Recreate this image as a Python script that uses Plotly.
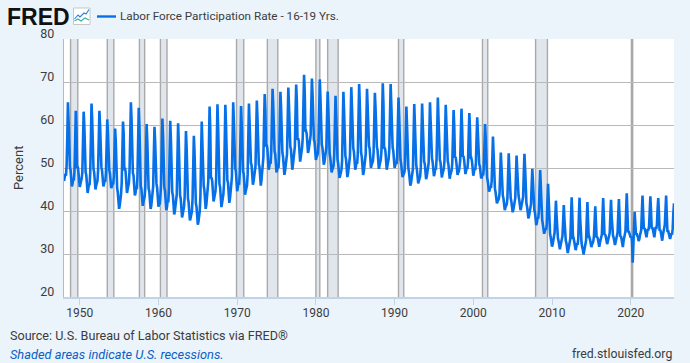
import plotly.graph_objects as go

W, H = 690, 363
L, R, T, B = 64, 16, 39, 66

first_year = 1948
monthly_rate = [
    [47.0,47.8,48.6,48.2,50.5,57.0,65.3,61.0,50.6,50.2,49.5,48.0],
    [45.7,46.4,47.5,47.1,49.3,55.8,63.3,59.4,50.0,50.4,49.0,47.3],
    [45.6,46.3,46.9,47.6,49.0,56.0,63.1,59.8,49.2,49.0,48.3,46.4],
    [44.2,45.1,46.3,46.0,48.8,56.5,65.0,61.2,50.4,49.8,49.0,47.2],
    [45.0,45.9,46.4,47.0,49.5,56.2,63.3,59.9,50.8,50.2,49.4,47.6],
    [45.7,46.3,47.1,46.8,49.1,55.4,61.3,58.2,50.0,49.5,48.8,46.9],
    [45.3,45.8,46.5,46.2,48.0,54.0,59.2,56.0,46.2,45.4,44.3,42.5],
    [40.5,41.3,42.4,43.9,46.5,53.8,60.8,58.0,49.5,50.1,49.0,46.8],
    [44.2,45.0,46.2,46.6,49.8,57.5,65.3,61.3,49.4,48.8,48.2,46.0],
    [43.6,44.2,45.4,45.1,47.9,56.0,64.0,59.6,46.6,45.8,45.1,43.2],
    [41.2,42.1,42.6,43.4,45.5,53.0,60.2,56.4,45.9,45.2,44.6,42.6],
    [40.5,41.2,42.3,43.5,45.7,53.2,59.6,56.0,46.6,46.3,45.4,43.3],
    [41.0,41.8,41.5,43.6,46.2,54.0,61.5,57.6,45.8,45.5,44.6,42.5],
    [40.2,41.0,42.4,42.0,45.0,53.5,61.0,56.7,45.0,44.4,43.6,41.4],
    [39.2,40.0,41.1,41.8,43.9,52.5,60.4,55.8,44.0,43.6,42.8,40.8],
    [38.5,39.3,40.2,41.0,43.3,51.0,58.6,54.6,43.4,42.9,42.0,40.0],
    [37.8,38.4,39.5,39.9,42.8,50.4,57.5,53.6,42.6,41.8,41.0,39.0],
    [36.8,37.6,39.0,40.1,43.5,52.0,60.8,55.5,46.2,45.8,44.9,42.7],
    [40.5,41.5,43.2,44.0,46.9,55.5,64.3,59.0,47.5,47.8,46.9,44.5],
    [42.2,43.0,43.8,44.6,47.4,56.0,64.8,59.5,46.6,46.3,45.5,43.2],
    [40.9,41.9,42.8,43.9,46.5,55.8,64.7,59.8,47.6,47.2,46.6,44.2],
    [41.9,42.9,44.2,44.8,47.8,56.5,65.3,60.7,50.2,49.9,49.3,47.0],
    [44.6,45.5,46.6,46.1,48.9,56.7,64.4,59.8,49.5,49.2,48.6,46.1],
    [43.8,44.6,45.3,45.9,48.4,56.8,65.0,60.5,51.6,51.2,50.6,48.3],
    [46.1,46.9,47.9,48.5,50.5,58.2,65.7,61.5,51.2,50.9,50.3,48.2],
    [45.9,47.1,48.6,49.5,52.5,60.5,67.2,63.5,55.0,55.4,54.5,52.0],
    [49.6,50.4,51.2,51.0,53.8,61.5,68.4,64.5,54.5,54.0,53.2,51.2],
    [49.0,49.6,50.2,50.0,52.6,60.3,67.7,63.8,53.8,53.5,52.6,50.6],
    [48.4,49.3,50.5,50.9,53.2,61.0,68.7,64.6,55.0,55.0,54.3,52.0],
    [49.6,50.8,51.8,52.9,55.0,62.8,69.4,65.6,56.6,56.9,56.2,54.0],
    [51.5,52.6,53.4,54.8,57.0,64.8,71.7,67.8,58.5,58.6,57.9,55.8],
    [53.5,54.2,55.2,55.6,57.5,64.6,70.8,67.0,56.8,56.6,56.0,54.2],
    [51.9,52.5,52.9,53.4,55.9,63.8,70.6,66.2,55.6,55.5,54.7,52.9],
    [50.8,51.4,52.4,53.0,54.8,61.8,67.8,63.8,54.0,53.3,52.3,50.7],
    [49.0,49.6,50.2,50.5,53.0,60.2,66.8,62.4,52.6,52.0,51.0,49.5],
    [47.7,48.2,48.8,49.6,51.6,60.0,67.7,63.3,53.0,52.8,52.0,50.0],
    [47.9,48.7,49.8,50.4,52.8,61.2,68.8,64.4,55.0,54.6,53.8,51.8],
    [49.6,50.4,51.2,51.0,53.5,61.8,69.5,64.8,53.6,53.5,52.6,50.7],
    [48.4,49.1,50.3,50.9,53.2,61.0,68.4,64.0,55.2,55.1,54.5,52.4],
    [50.0,50.8,51.2,51.6,53.5,60.8,67.5,63.8,55.0,54.9,54.2,52.0],
    [49.8,50.6,51.4,52.0,54.0,62.0,69.7,65.0,54.5,54.8,53.9,51.8],
    [49.6,50.5,51.5,52.2,54.5,62.5,69.5,64.9,55.2,54.8,54.0,52.3],
    [50.0,50.6,51.3,50.9,52.8,60.0,66.4,62.0,52.5,51.9,51.0,49.5],
    [47.9,48.3,48.8,49.0,50.5,57.8,64.3,60.0,50.4,50.0,49.0,47.3],
    [45.9,46.5,47.4,47.8,49.8,57.5,64.9,60.1,51.0,50.6,49.6,48.0],
    [46.4,47.0,47.6,48.1,50.2,58.0,65.0,60.2,51.8,51.5,51.0,49.0],
    [47.4,48.0,48.9,49.2,51.2,58.4,65.3,60.8,52.3,52.3,51.4,49.8],
    [48.1,48.8,49.9,49.6,51.9,59.2,66.4,61.4,52.2,51.9,51.3,49.6],
    [47.8,48.6,49.0,49.8,51.5,58.0,64.7,60.2,51.8,51.6,50.9,49.2],
    [47.5,48.4,49.1,49.5,51.2,57.6,63.5,59.6,52.4,52.6,51.5,50.0],
    [48.4,49.0,49.2,50.2,51.6,58.0,63.8,59.4,52.6,52.8,51.9,50.2],
    [48.6,49.3,50.0,49.8,51.5,57.5,62.8,58.9,52.2,52.3,51.6,50.0],
    [48.2,49.1,49.9,49.5,51.3,57.0,61.8,58.2,51.0,50.9,50.4,49.0],
    [47.6,47.9,48.6,48.3,49.8,55.3,60.2,56.6,48.4,47.8,47.0,45.8],
    [44.5,45.0,45.7,45.4,46.8,52.0,57.3,53.2,45.3,45.2,44.3,43.0],
    [41.8,42.2,42.6,42.9,44.0,49.0,53.6,50.4,43.8,43.6,42.9,41.3],
    [40.2,40.9,41.4,41.6,42.9,48.5,53.4,49.6,43.0,43.0,42.2,41.0],
    [39.7,40.3,41.0,41.5,43.0,48.0,52.9,49.5,43.6,43.5,42.6,41.4],
    [40.2,40.9,41.6,41.9,43.3,49.0,53.3,49.9,42.0,41.8,41.0,39.8],
    [38.3,38.9,39.8,40.3,41.6,46.0,49.8,46.6,40.4,40.3,39.6,38.0],
    [36.7,37.4,38.5,38.2,40.0,45.5,49.5,45.5,38.6,38.0,36.9,35.8],
    [34.7,35.3,35.9,35.6,36.8,42.0,46.3,42.5,35.5,34.8,33.9,32.8],
    [31.7,32.3,33.4,34.4,35.0,38.5,42.4,38.8,33.9,33.7,33.0,32.2],
    [31.1,32.0,32.7,33.4,34.2,37.8,41.4,37.9,33.2,33.1,32.5,31.4],
    [30.2,31.1,32.0,32.8,33.6,38.6,43.2,38.9,33.5,33.6,32.8,31.9],
    [30.9,31.7,32.5,32.1,33.5,38.9,43.1,38.2,32.9,32.6,31.6,31.1],
    [29.9,31.0,31.8,32.5,33.2,38.0,42.1,37.6,33.8,33.9,33.3,32.7],
    [31.6,32.2,32.6,33.0,34.2,37.8,41.1,37.5,33.8,34.0,33.5,32.6],
    [31.7,32.6,33.2,33.7,34.5,39.0,43.0,39.0,34.4,34.6,34.0,33.2],
    [32.3,32.9,33.5,33.6,34.9,39.0,42.6,38.6,34.4,34.2,33.8,33.0],
    [32.1,32.8,33.5,33.9,35.0,39.2,42.8,38.8,34.0,34.2,33.5,32.7],
    [31.6,33.0,33.8,34.0,35.3,40.0,44.1,39.5,35.0,35.3,34.8,34.2],
    [33.8,34.1,33.0,28.0,31.0,36.0,39.8,37.0,34.5,34.8,34.2,34.0],
    [33.0,33.4,34.3,34.8,35.5,39.8,43.6,39.6,35.8,36.0,35.4,34.6],
    [33.9,35.0,35.8,35.5,36.5,40.0,43.4,39.8,35.9,36.2,35.5,34.7],
    [33.9,35.2,36.3,35.8,36.9,40.5,43.0,39.8,35.4,35.6,35.0,34.0],
    [33.1,34.4,35.3,35.6,36.8,40.2,43.6,39.0,35.1,35.5,34.8,34.1],
    [33.5,34.2,34.8,34.5,35.9,39.5,41.8],
]
recession_start = ["1948-11-01","1953-07-01","1957-08-01","1960-04-01","1969-12-01","1973-11-01",
                   "1980-01-01","1981-07-01","1990-07-01","2001-03-01","2007-12-01","2020-02-01"]
recession_end = ["1949-10-01","1954-05-01","1958-04-01","1961-02-01","1970-11-01","1975-03-01",
                 "1980-07-01","1982-11-01","1991-03-01","2001-11-01","2009-06-01","2020-04-01"]
x_tick_years = [1950,1960,1970,1980,1990,2000,2010,2020]
y_ticks = [20,30,40,50,60,70,80]

SERIES_NAME = "Labor Force Participation Rate - 16-19 Yrs."
BG = "#ebf3fb"
GRID = "#b9b9b9"
TXT = "#3c3c3c"
BLUE = "#0670e8"

dates, values = [], []
for i, row in enumerate(monthly_rate):
    for m, v in enumerate(row):
        dates.append(f"{first_year+i}-{m+1:02d}-01")
        values.append(v)

pw, ph = W - L - R, H - T - B
fx = lambda x: (x - L) / pw
fy = lambda y: 1 - (y - T) / ph

fig = go.Figure(go.Scatter(x=dates, y=values, mode="lines", name=SERIES_NAME,
                           line=dict(color=BLUE, width=2.6), showlegend=False))

shapes = []
for s, e in zip(recession_start, recession_end):
    shapes.append(dict(type="rect", xref="x", yref="paper", x0=s, x1=e, y0=0, y1=1, layer="below",
                       fillcolor="#e1e6ed", line=dict(width=0)))
    for d in (s, e):
        shapes.append(dict(type="line", xref="x", yref="paper", x0=d, x1=d, y0=0, y1=1, layer="below",
                           line=dict(color="#a9a9a9", width=1.4)))

def pxshape(**kw):
    kw.update(xref="paper", yref="paper")
    return kw

# legend sample
shapes.append(pxshape(type="line", x0=fx(97), x1=fx(116), y0=fy(16.5), y1=fy(16.5),
                      line=dict(color=BLUE, width=2.4)))
# FRED icon
shapes.append(pxshape(type="rect", x0=fx(73.5), x1=fx(90), y0=fy(8), y1=fy(24.5),
                      fillcolor="#ffffff", line=dict(color="#c7c7c7", width=1)))
def poly(pts, color):
    path = "M " + " L ".join(f"{fx(a):.4f},{fy(b):.4f}" for a, b in pts)
    return pxshape(type="path", path=path, line=dict(color=color, width=1.1))
shapes.append(poly([(74.5,19),(78,15),(80,17),(84,13),(86,14),(89,9.5)], "#2f7fd8"))
shapes.append(poly([(74.5,21),(78,19),(81,21),(85,18),(89,20)], "#3cb39a"))

def note(x, y, text, anchor="left", color=TXT, size=13, family="Roboto", angle=0, **extra):
    return dict(x=fx(x), y=fy(y), xref="paper", yref="paper", text=text, xanchor=anchor, yanchor="middle",
                showarrow=False, textangle=angle, font=dict(family=family, size=size, color=color), **extra)

anns = [
    note(6, 16, "<b>FRED</b>", size=23, family="Liberation Sans", color="#111111", height=19, borderpad=0),
    note(118, 16, SERIES_NAME, size=11.7),
    note(8, 335, "Source: U.S. Bureau of Labor Statistics via FRED®", size=12.6),
    note(8, 354, "<i>Shaded areas indicate U.S. recessions.</i>", size=12.8, color="#0a5fc4"),
    note(674, 354, "fred.stlouisfed.org", anchor="right", size=12.3),
    note(18, 168, "Percent", anchor="center", size=13, angle=-90),
]

fig.update_layout(
    width=W, height=H, margin=dict(l=L, r=R, t=T, b=B, pad=0),
    paper_bgcolor=BG, plot_bgcolor="#ffffff",
    shapes=shapes, annotations=anns, showlegend=False,
    font=dict(family="Roboto", color=TXT, size=13),
    xaxis=dict(type="date", range=["1948-01-01","2025-07-01"],
               tickvals=[f"{y}-01-01" for y in x_tick_years], ticktext=[str(y) for y in x_tick_years],
               showgrid=False, zeroline=False, showline=True, linecolor="#c3d3e6", linewidth=1.5,
               ticks="outside", ticklen=6, tickcolor="#c3d3e6", tickwidth=1, ticklabelstandoff=-2,
               tickfont=dict(family="Roboto", size=12, color=TXT)),
    yaxis=dict(range=[20,80], tickvals=y_ticks, ticktext=[str(v) for v in y_ticks],
               showgrid=True, gridcolor=GRID, gridwidth=1.4, zeroline=False, showline=True,
               linecolor=GRID, linewidth=1.4, ticks="", ticklabelshift=-5, ticklabelstandoff=6,
               tickfont=dict(family="Roboto", size=12.5, color=TXT)),
)
fig.write_html("out.html", config=dict(displayModeBar=False),
               post_script="document.body.style.margin='0';document.body.style.background='#ebf3fb';")
